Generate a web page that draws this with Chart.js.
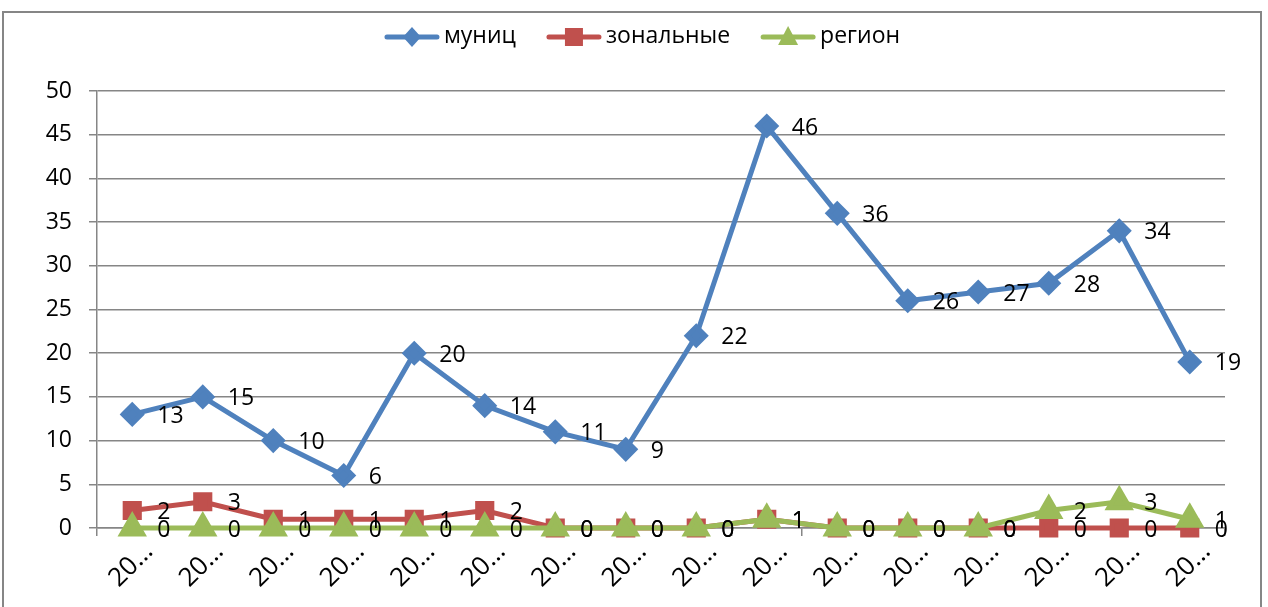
<!DOCTYPE html>
<html>
<head>
<meta charset="utf-8">
<script src="https://cdn.jsdelivr.net/npm/chart.js@4.4.1/dist/chart.umd.min.js"></script>
<style>
  html, body { margin: 0; padding: 0; background: #fff; }
  #wrap { width: 1268px; height: 607px; position: relative; }
</style>
</head>
<body>
<div id="wrap"><canvas id="myChart" width="1268" height="607"></canvas></div>
<script>
const labels = ['20…', '20…', '20…', '20…', '20…', '20…', '20…', '20…',
                '20…', '20…', '20…', '20…', '20…', '20…', '20…', '20…'];
const munic = [13, 15, 10, 6, 20, 14, 11, 9, 22, 46, 36, 26, 27, 28, 34, 19];
const zonal = [2, 3, 1, 1, 1, 2, 0, 0, 0, 1, 0, 0, 0, 0, 0, 0];
const region = [0, 0, 0, 0, 0, 0, 0, 0, 0, 1, 0, 0, 0, 2, 3, 1];
const yTicks = [0, 5, 10, 15, 20, 25, 30, 35, 40, 45, 50];

const FONT = "'Open Sans', 'Liberation Sans', sans-serif";

function marker(g, style, x, y) {
  g.beginPath();
  if (style === 'rectRot') {
    g.moveTo(x, y - 10); g.lineTo(x + 9, y); g.lineTo(x, y + 10); g.lineTo(x - 9, y);
  } else if (style === 'rect') {
    g.rect(x - 9, y - 9, 18, 18);
  } else {
    g.moveTo(x, y - 11); g.lineTo(x + 10, y + 8); g.lineTo(x - 10, y + 8);
  }
  g.closePath(); g.fill();
}

// legend drawn by hand: line with marker, then the label
const legendLine = {
  id: 'legendLine',
  afterDraw(chart) {
    const c = chart.ctx;
    const sets = chart.data.datasets;
    c.save();
    c.font = '23px ' + FONT;
    c.textBaseline = 'middle';
    c.textAlign = 'left';
    const sw = 56, gap = 4, sep = 30;
    const widths = sets.map(ds => sw + gap + c.measureText(ds.label).width);
    const total = widths.reduce((a, b) => a + b, 0) + sep * (sets.length - 1);
    let x = 642 - total / 2;
    const y = 37;
    sets.forEach((ds, i) => {
      c.strokeStyle = ds.borderColor;
      c.fillStyle = ds.borderColor;
      c.lineWidth = 5;
      c.lineCap = 'round';
      c.beginPath(); c.moveTo(x + 3, y); c.lineTo(x + sw - 3, y); c.stroke();
      marker(c, ds.pointStyle, x + sw / 2, y);
      c.fillStyle = '#000';
      c.fillText(ds.label, x + sw + gap, y - 1);
      x += widths[i] + sep;
    });
    c.restore();
  }
};

// category labels rotated -45deg, centred under each category
const xLabels = {
  id: 'xLabels',
  afterDraw(chart) {
    const c = chart.ctx;
    const sx = chart.scales.x;
    c.save();
    c.font = '26px ' + FONT;
    c.fillStyle = '#000';
    c.textAlign = 'center';
    c.textBaseline = 'middle';
    chart.data.labels.forEach((lab, i) => {
      c.save();
      c.translate(sx.getPixelForValue(i) - 1, sx.top + 37);
      c.rotate(-Math.PI / 4);
      c.fillText(lab, 0, 0);
      c.restore();
    });
    c.restore();
  }
};

const frame = {
  id: 'frame',
  beforeDraw(chart) {
    const c = chart.ctx;
    c.save();
    c.strokeStyle = '#868686';
    c.lineWidth = 2;
    c.strokeRect(3, 12, 1258, 620);
    c.restore();
  }
};

const valueLabels = {
  id: 'valueLabels',
  afterDatasetsDraw(chart) {
    const c = chart.ctx;
    c.save();
    c.font = '23px ' + FONT;
    c.fillStyle = '#000';
    c.textAlign = 'left';
    c.textBaseline = 'middle';
    chart.data.datasets.forEach((ds, i) => {
      chart.getDatasetMeta(i).data.forEach((pt, j) => {
        c.fillText(String(ds.data[j]), pt.x + 25, pt.y + 2);
      });
    });
    c.restore();
  }
};

const ctx = document.getElementById('myChart').getContext('2d');
const chart = new Chart(ctx, {
  type: 'line',
  data: {
    labels: labels,
    datasets: [{
      label: 'муниц',
      data: munic,
      borderColor: '#4F81BD',
      backgroundColor: '#4F81BD',
      borderWidth: 5,
      pointStyle: 'rectRot',
      pointRadius: 9,
      pointHoverRadius: 9,
      tension: 0,
      clip: false,
      order: 0
    }, {
      label: 'зональные',
      data: zonal,
      borderColor: '#C0504D',
      backgroundColor: '#C0504D',
      borderWidth: 5,
      pointStyle: 'rect',
      pointRadius: 10,
      pointHoverRadius: 10,
      tension: 0,
      clip: false,
      order: 2
    }, {
      label: 'регион',
      data: region,
      borderColor: '#9BBB59',
      backgroundColor: '#9BBB59',
      borderWidth: 5,
      pointStyle: 'triangle',
      pointRadius: 12,
      pointHoverRadius: 12,
      tension: 0,
      clip: false,
      order: 1
    }]
  },
  options: {
    responsive: false,
    animation: false,
    layout: { padding: { left: 0, right: 43, top: 91, bottom: 0 } },
    plugins: {
      tooltip: { enabled: false },
      legend: { display: false }
    },
    scales: {
      x: {
        offset: true,
        grid: { display: true, drawOnChartArea: false, drawTicks: true, tickLength: 8, color: '#868686', lineWidth: 1.5, offset: true },
        border: { color: '#868686', width: 1.5 },
        ticks: { display: false, autoSkip: false },
        afterFit(s) { s.height = 79; }
      },
      y: {
        min: 0,
        max: 50,
        afterBuildTicks(s) { s.ticks = yTicks.map(v => ({ value: v })); },
        grid: { color: '#868686', lineWidth: 1.5, tickLength: 8 },
        border: { color: '#868686', width: 1.5 },
        ticks: { color: '#000', font: { family: FONT, size: 23 }, padding: 17 },
        afterFit(s) { s.width = 97; }
      }
    }
  },
  plugins: [frame, valueLabels, legendLine, xLabels]
});
</script>
</body>
</html>
